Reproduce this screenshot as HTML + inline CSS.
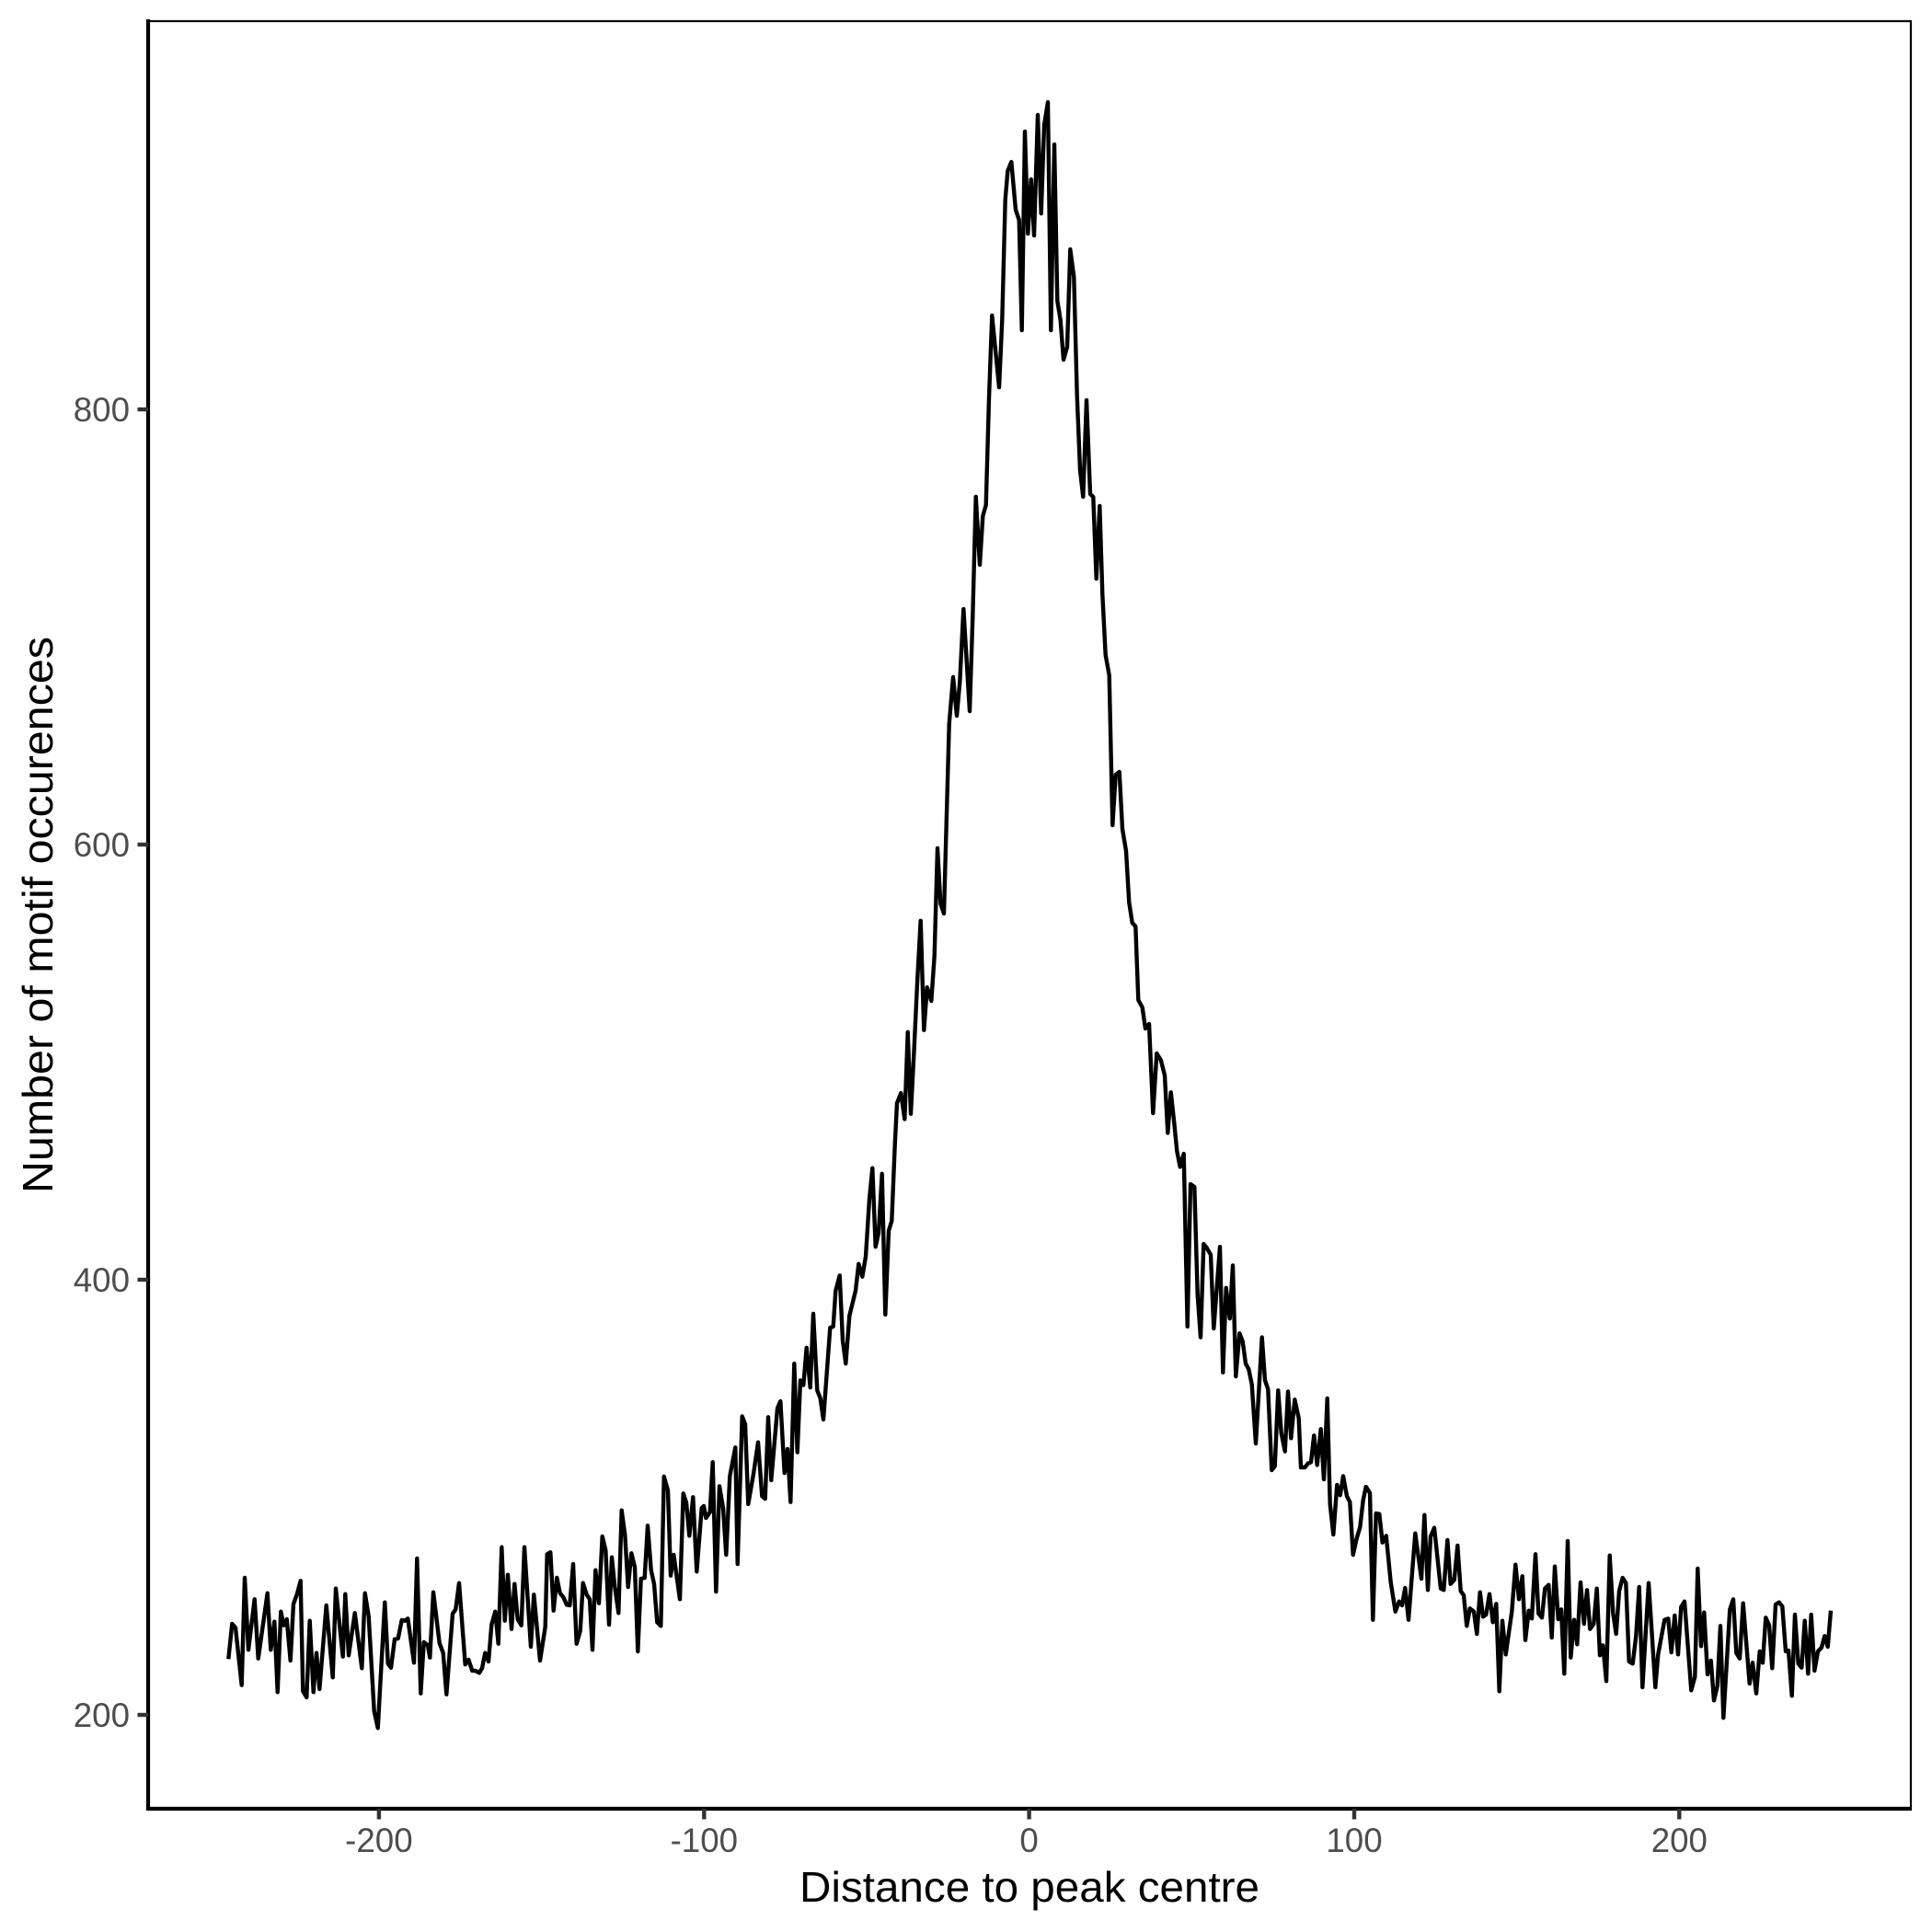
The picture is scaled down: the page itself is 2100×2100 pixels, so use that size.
<!DOCTYPE html>
<html>
<head>
<meta charset="utf-8">
<style>
  html, body { margin: 0; padding: 0; background: #ffffff; }
  svg { display: block; }
  text { font-family: "Liberation Sans", "DejaVu Sans", sans-serif; }
</style>
</head>
<body>
<svg xmlns="http://www.w3.org/2000/svg" width="2100" height="2100" viewBox="0 0 2100 2100">
  <rect x="0" y="0" width="2100" height="2100" fill="#ffffff"/>

  <!-- data line -->
  <polyline fill="none" stroke="#000000" stroke-width="4.4" stroke-linejoin="round" stroke-linecap="butt" points="
248.3,1803.3 252.3,1765 256,1769.3 262.7,1831.7 266,1715 270,1793.3 276.7,1738.3 280.7,1802.7 290.7,1731.7 294.3,1793.3 298.3,1762.7 301.7,1839.3 305.3,1751.7 308.3,1766.7 311.7,1760 315.7,1805 319,1743.3 322.7,1733.3 326.7,1718.3 329.3,1838.3 333.3,1845 336.7,1761.7 340.7,1839.3 344,1796.7 347.3,1836 354.7,1745 361.7,1823.3 365,1726.7 372.7,1800.7 375.3,1732.7 379,1799.3 385.7,1753.3 393.3,1813.3 396.7,1731.7 400.7,1756.7 406.7,1860 410.7,1878.3 418.3,1741.7 421.7,1808.3 425,1812.7 429,1781.7 432.7,1781 436.7,1761 440,1761.7 443.3,1759.3 450,1807.3 453.3,1694 457.3,1840.7 460.7,1785 465,1788.3 467.3,1801.7 471,1730.7 477.7,1786 481.7,1796.7 485.3,1841.7 492,1754 495.3,1749.3 499,1720.7 505.7,1809.3 509.3,1804 513.3,1816 516.7,1816 521,1818.3 524,1813.3 527.3,1796.7 531,1806 534.3,1766 538.3,1751.7 541.7,1786.7 545.3,1681.7 548.7,1761.7 552,1711.7 556,1770.7 559.3,1721.7 562.7,1760 566.7,1766.7 570,1681.7 577,1790 580.3,1733.3 587,1805 592.7,1768.3 594.7,1689.3 598.3,1687.3 601.7,1750.7 605.3,1715 608.7,1731.7 612.3,1736 616,1744.3 619.3,1745 623,1700 626.7,1786.7 630.7,1772.7 633.7,1720.7 637.7,1733.3 641,1738.3 644,1793.3 647.3,1706.7 651,1742.7 654.7,1670 658.3,1685 662,1766 665,1692.7 668.3,1725 672.3,1753.3 675.7,1641.7 679.3,1668.3 682.7,1725 686.3,1688.3 690,1703.3 693.3,1795 696.7,1716 700.7,1715 704,1658.3 707.7,1706.7 711,1721.7 714.3,1763.3 718.3,1767.3 721.7,1605 726,1620 729,1712.7 732.3,1690 739,1738.3 742.7,1623.3 746,1633.3 749.3,1669.3 753.3,1627.3 757.3,1708.3
762.7,1639.2 765,1637 767.3,1650 771.7,1643.6 774.7,1589.3 778.3,1730 782,1615.4 786,1639.2 789.3,1690 793.3,1604.5 799.3,1573.3 801.7,1700 806.7,1539.5 810,1548.1 813.3,1634.9 819.3,1600.2 824,1567.7 828.3,1626.2 831.7,1629.2 835,1540.3 838.3,1608.9 845,1530.8 848.3,1523 852.7,1601.1 856,1575 859.3,1632.7 863.3,1482.2 866.7,1578.5 870,1500.4 873.3,1505.6 876.7,1464.9 880.7,1508.2 884,1428 888.3,1511.3 891.7,1520 895,1543 902.3,1443.2 905.7,1441.9 908.3,1402.9 912.7,1386.4 916,1457.1 919.3,1482.2 923.3,1430.2 930,1402.9 933.3,1373.8 937.3,1387.7 941,1366 945,1303.1 948.3,1269.7 951.7,1355.2 955,1340 958.7,1275.8 962.3,1428.9 966,1337.8 969.3,1327 972.7,1244.6 975,1199 979.3,1188.2 983.3,1216.4 986.7,1121.8 990,1210.7 993.3,1147 997.3,1062.4 1000.7,1000.8 1004.3,1119.7 1007.7,1073.2
1012.3,1088 1015.7,1039 1019,922 1022.3,982 1026,993 1031.7,787 1036,736 1040,778 1043.3,741 1047.3,662 1054,773 1057.3,670 1060.7,540 1065,614 1068.3,561 1071.7,549 1075,433 1078.3,343 1086,421 1089.3,348 1092.7,217 1095.3,186 1099.3,176 1104,228 1107.7,239 1110.7,359 1114,143 1117.3,254 1120.7,195
1124,256 1128,125 1131.7,232 1135,136 1139,111 1142.3,359 1146,157 1149.3,327 1152.7,348 1156,391 1160,377 1163.3,271 1167.3,301 1170.7,430 1174,511 1177.3,540 1181,435 1185,537 1188.3,540 1191.7,629 1195.3,550 1198.3,646 1201.7,712 1205.7,734 1209.3,897 1212.7,842 1216.7,839 1220,901 1224,925 1227.3,981 1230.7,1003 1234.3,1007 1237.3,1087 1241.7,1095 1245,1118 1249,1113 1253.3,1210 1257.3,1145 1261.7,1152
1266,1168.7 1269.3,1231.5 1272.7,1187.3 1276,1217.7 1279.3,1251.1 1282.7,1268.4 1286.7,1254.1 1290.7,1441.9 1294,1287.1 1298.3,1290.1 1301.7,1407.2 1305,1453.6 1308.3,1352.1 1311.7,1356.4 1316,1363.8 1319.3,1444 1326,1355.2 1329.3,1491.8 1332.7,1399.8 1336.7,1433.2 1340,1375.5 1343.3,1496.1 1347.3,1449.3 1350.7,1458 1354,1482.2 1357.3,1488.3 1360.7,1504.8 1365,1569 1371.7,1453.6 1375,1500.4 1378.3,1510 1382.3,1598 1385.7,1593.7 1389.3,1511.3 1392.7,1557.7 1396.7,1577.6 1400,1512.6 1403.3,1563.3 1407.3,1521.3 1411.7,1541.6 1414,1595 1418.3,1595 1421.7,1590.7 1425,1589.3 1428.3,1560.3 1431.7,1592.4 1435.7,1553.3 1439,1608 1442.7,1520 1445.7,1634.9 1449.3,1668 1453.3,1614 1456.7,1625.3 1460,1604.5 1464,1626.2 1467.3,1632.7 1470.7,1690 1474.7,1672 1478.3,1660 1481.7,1630.5
1484.7,1616 1489,1622.7 1492.3,1760.7 1495.7,1645 1499.3,1645.7 1502.7,1676.7 1506.7,1669.3 1511.7,1720 1516.7,1751.7 1520.7,1740.7 1524,1745 1527.3,1726 1531,1760.7 1538.3,1666.7 1545,1716 1548.3,1646.7 1552,1728.3 1555,1670 1559,1660.7 1566,1726.7 1569.3,1728.3 1573.3,1674 1576.7,1721.7 1580.7,1717.3 1584.3,1680 1587.7,1729.3 1591,1734 1594.3,1767.3 1597.7,1748.3 1602,1751.7 1605.3,1776 1608.7,1730.7 1612,1757.3 1615.3,1755 1619,1732.7 1622.7,1763.3 1626.3,1743.3 1629.7,1838.3 1633,1761.7 1636.7,1798.3 1643.3,1751.7 1647.3,1700.7 1651,1738.3 1654.7,1713.3 1658,1782.7 1661.7,1750.7 1665,1759.3 1669,1689.3 1672.3,1754 1676,1758.3 1679.3,1726.7 1683.3,1722.7 1686.7,1780 1690,1702.7 1693.7,1760 1697,1749.3 1700.3,1819.3 1704,1675 1707.3,1801.7 1711,1760.7 1714.3,1787.3 1718,1720 1721.7,1765 1725,1728.3 1728.3,1770.7 1732.3,1765 1735.7,1726.7 1739,1799.3 1742.3,1788.3 1746,1827.3 1749.7,1690.7 1753.3,1753.3 1756.7,1776 1760,1729.3 1763.7,1715 1767.3,1720.7 1770.7,1806 1774.7,1808.3 1778.3,1778.3 1781.7,1725 1785.3,1834 1792,1720.7 1799.3,1834 1802.3,1798.3 1809.3,1760.7 1813.3,1759.3 1816.7,1796 1820.3,1756 1824,1798.3 1827.3,1746.7 1831,1740.7 1838.3,1837.3 1842.3,1822.7 1845.3,1705 1849,1789.3 1852.3,1752.7 1856,1820 1859.7,1805 1863,1848.3 1866.7,1832.7 1870,1767.3 1873.3,1867.3 1880.3,1749.3 1884,1738.3 1887.3,1796.7 1891,1802.7 1894.7,1742.7 1901.7,1830 1905,1807.3 1909,1840.7 1912.7,1795 1916,1807.3 1919.3,1758.3 1923,1766.7 1926.3,1813.3 1930,1744 1933.7,1741.7 1937.3,1746 1941,1795 1944,1794 1947.7,1843.3 1951,1755 1954.7,1808.3 1958.3,1812.7 1961.7,1761.7 1965.3,1819.3 1968.7,1755 1972.3,1816 1976,1795 1980,1790.7 1983.3,1778.3 1986.7,1790 1990,1750.7"/>

  <!-- panel border (top/right) -->
  <rect x="161" y="23" width="1916" height="1943" fill="none" stroke="#000000" stroke-width="2.2"/>
  <!-- axis lines -->
  <line x1="161" y1="21" x2="161" y2="1968" stroke="#000000" stroke-width="4.2"/>
  <line x1="159" y1="1966" x2="2078" y2="1966" stroke="#000000" stroke-width="4.2"/>

  <!-- y ticks -->
  <g stroke="#333333" stroke-width="4.4">
    <line x1="149.5" y1="1864" x2="161" y2="1864"/>
    <line x1="149.5" y1="1391" x2="161" y2="1391"/>
    <line x1="149.5" y1="918" x2="161" y2="918"/>
    <line x1="149.5" y1="445" x2="161" y2="445"/>
  </g>
  <!-- x ticks -->
  <g stroke="#333333" stroke-width="4.4">
    <line x1="411.9" y1="1966" x2="411.9" y2="1977.5"/>
    <line x1="765.3" y1="1966" x2="765.3" y2="1977.5"/>
    <line x1="1118.6" y1="1966" x2="1118.6" y2="1977.5"/>
    <line x1="1472" y1="1966" x2="1472" y2="1977.5"/>
    <line x1="1825.3" y1="1966" x2="1825.3" y2="1977.5"/>
  </g>

  <!-- y tick labels -->
  <g fill="#4D4D4D" font-size="36.7" text-anchor="end">
    <text x="141" y="1877">200</text>
    <text x="141" y="1404">400</text>
    <text x="141" y="931">600</text>
    <text x="141" y="458">800</text>
  </g>
  <!-- x tick labels -->
  <g fill="#4D4D4D" font-size="36.7" text-anchor="middle">
    <text x="411.9" y="2013">-200</text>
    <text x="765.3" y="2013">-100</text>
    <text x="1118.6" y="2013">0</text>
    <text x="1472" y="2013">100</text>
    <text x="1825.3" y="2013">200</text>
  </g>

  <!-- axis titles -->
  <text x="1119" y="2067" font-size="46" fill="#000000" text-anchor="middle" textLength="500" lengthAdjust="spacingAndGlyphs">Distance to peak centre</text>
  <text transform="translate(57,994.5) rotate(-90)" x="0" y="0" font-size="46" fill="#000000" text-anchor="middle" textLength="605" lengthAdjust="spacingAndGlyphs">Number of motif occurences</text>
</svg>
</body>
</html>
